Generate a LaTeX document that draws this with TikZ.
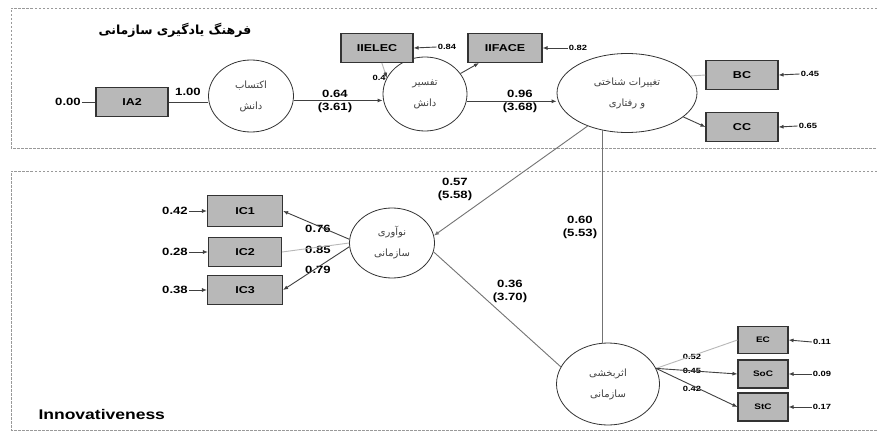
\documentclass[tikz,border=0pt]{standalone}
\usepackage{fontspec}
\setmainfont{Liberation Sans}
\newfontfamily\fa[Script=Arabic]{DejaVu Sans}
\newfontfamily\lab[FakeStretch=1.25]{Liberation Sans}
\TeXXeTstate=1
\usetikzlibrary{shapes.geometric,arrows.meta,calc}
\begin{document}
\begin{tikzpicture}[x=1pt,y=-1pt,
  obs/.style={draw=black!80, fill=black!28, line width=1.1pt, minimum width=72pt, minimum height=29pt, inner sep=0pt, font=\lab\bfseries\fontsize{10}{12}\selectfont},
  obss/.style={obs, minimum width=50pt, minimum height=27pt, font=\lab\bfseries\fontsize{8}{10}\selectfont},
  lat/.style={ellipse, draw=black!80, line width=0.8pt, fill=white, inner sep=0pt, align=center, text=black!75, font=\fa\fontsize{10}{21}\selectfont},
  lbl/.style={font=\lab\bfseries\fontsize{10.5}{13}\selectfont, inner sep=1pt, align=center},
  sml/.style={font=\lab\bfseries\fontsize{7.5}{9}\selectfont, inner sep=1pt},
  ln/.style={draw=black!75, line width=0.9pt},
  lite/.style={draw=black!28, line width=0.9pt},
  arr/.style={-{Latex[length=5pt,width=4pt]}},
  frame/.style={draw=black!40, line width=0.8pt, dash pattern=on 2.5pt off 1.5pt}
]
\useasboundingbox (0,0) rectangle (877,433);
\fill[white] (0,0) rectangle (877,433);
% frames
\draw[frame] (877,8) -- (11,8) -- (11,148) -- (877,148);
\draw[frame] (877,171) -- (11,171) -- (11,430) -- (877,430);
% titles
\node[font=\fa\bfseries\fontsize{12.5}{14}\selectfont] (title) at (175,30) {\beginR فرهنگ یادگیری سازمانی\endR};
\node[font=\lab\bfseries\fontsize{14}{16}\selectfont, anchor=west] (inno) at (35,414) {Innovativeness};

% top row
\node[obs] (IA2) at (132,102) {IA2};
\node[lbl] (l00) at (68,102) {0.00};
\node[lat, minimum width=85pt, minimum height=72pt] (K1) at (251,96) {\beginR اکتساب\endR\\\beginR دانش\endR};
\node[lat, minimum width=84pt, minimum height=74pt] (K2) at (425,94) {\beginR تفسیر\endR\\\beginR دانش\endR};
\node[lat, minimum width=140pt, minimum height=79pt] (E3) at (627,93) {\beginR تغییرات شناختی\endR\\\beginR و رفتاری\endR};
\node[obs] (IE) at (377,48) {IIELEC};
\node[obs, minimum width=74pt] (IF) at (505,48) {IIFACE};
\node[obs] (BC) at (742,75) {BC};
\node[obs] (CC) at (742,127) {CC};
\node[sml] (l084) at (447,47) {0.84};
\node[sml] (l082) at (578,48) {0.82};
\node[sml] (l045) at (810,74) {0.45};
\node[sml] (l065) at (808,126) {0.65};
\node[lbl] (l100) at (188,92) {1.00};
\node[lbl] (l064) at (335,101) {0.64\\(3.61)};
\node[lbl] (l096) at (520,101) {0.96\\(3.68)};

% bottom
\node[obs, minimum width=75pt, minimum height=31pt] (IC1) at (245,211) {IC1};
\node[obs, minimum width=73pt] (IC2) at (245,252) {IC2};
\node[obs, minimum width=75pt] (IC3) at (245,290) {IC3};
\node[lbl] (l042) at (175,211) {0.42};
\node[lbl] (l028) at (175,252) {0.28};
\node[lbl] (l038) at (175,290) {0.38};
\node[lat, minimum width=85pt, minimum height=70pt] (NOV) at (392,243) {\beginR نوآوری\endR\\\beginR سازمانی\endR};
\node[lbl] (l076) at (318,229) {0.76};
\node[lbl] (l085) at (318,250) {0.85};
\node[lbl] (l079) at (318,270) {0.79};
\node[lbl] (l057) at (455,189) {0.57\\(5.58)};
\node[lbl] (l060) at (580,227) {0.60\\(5.53)};
\node[lbl] (l036) at (510,291) {0.36\\(3.70)};
\node[lat, minimum width=103pt, minimum height=82pt] (EFF) at (608,384) {\beginR اثربخشی\endR\\\beginR سازمانی\endR};
\node[obss] (EC) at (763,340) {EC};
\node[obss, minimum height=28pt] (SoC) at (763,374) {SoC};
\node[obss, minimum height=28pt] (StC) at (763,407) {StC};
\node[sml] (l052) at (692,357) {0.52};
\node[sml] (l045b) at (692,371) {0.45};
\node[sml] (l042b) at (692,389) {0.42};
\node[sml] (l011) at (822,342) {0.11};
\node[sml] (l009) at (822,374) {0.09};
\node[sml] (l017) at (822,407) {0.17};

% connectors top
\draw[ln] (l00.east) -- (IA2.west);
\draw[ln] (IA2.east) -- (K1.west |- IA2.east);
\draw[ln,arr] (K1.-6) -- (K2.west |- K1.-6);
\draw[ln,arr] (K2.-10) -- (E3.west |- K2.-10);
\draw[lite] (IE.-72) -- (K2.157);
\draw[ln,arr,draw=black!75] ($(IE.-72)!0.6!(K2.157)$) -- (K2.157);
\node[sml, anchor=east] (l04) at (K2.157) {0.4\hspace{3pt}};
\draw[ln,arr] (K2.30) -- (IF.-150);
\draw[ln,arr] (l084.west) -- (IE.east);
\draw[ln,arr] (l082.west) -- (IF.east);
\draw[lite] (E3.15) -- (BC.west);
\draw[ln,arr] (E3.-23) -- (CC.west);
\draw[ln,arr] (l045.west) -- (BC.east);
\draw[ln,arr] (l065.west) -- (CC.east);

% connectors bottom
\draw[ln,draw=black!55,arr] (E3.-140) -- (NOV.10);
\draw[ln,draw=black!55] (E3.-123) -- (EFF.north -| E3.-123);
\draw[ln,draw=black!55] (NOV.-12) -- (EFF.160);
\draw[ln,arr] (NOV.175) -- (IC1.east);
\draw[lite] (NOV.west) -- (IC2.east);
\draw[ln,arr] (NOV.185) -- (IC3.east);
\draw[ln,arr] (l042.east) -- (IC1.west);
\draw[ln,arr] (l028.east) -- (IC2.west);
\draw[ln,arr] (l038.east) -- (IC3.west);
\draw[lite] (EFF.18) -- (EC.west);
\draw[ln,arr] (EFF.18) -- (SoC.west);
\draw[ln,arr] (EFF.18) -- (StC.west);
\draw[ln,arr] (l011.west) -- (EC.east);
\draw[ln,arr] (l009.west) -- (SoC.east);
\draw[ln,arr] (l017.west) -- (StC.east);
\end{tikzpicture}
\end{document}
